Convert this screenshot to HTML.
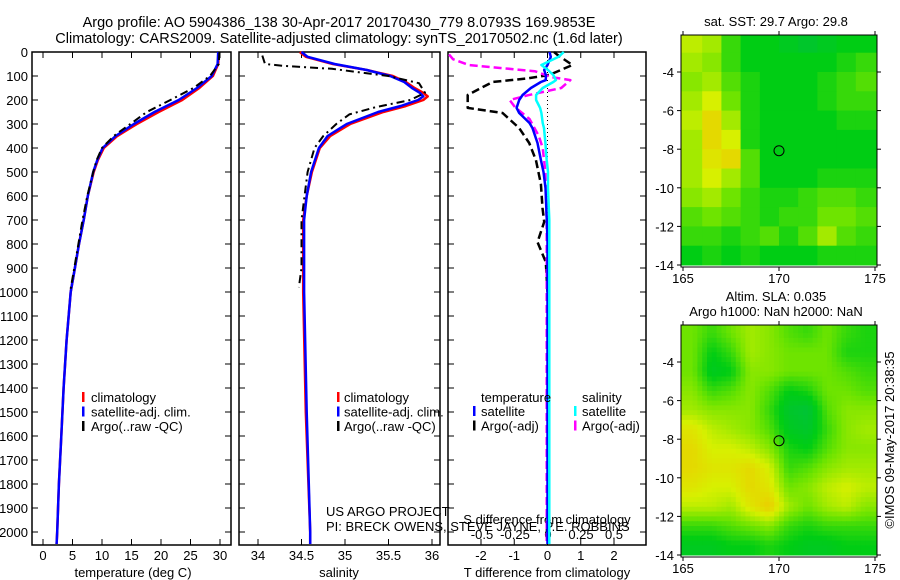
<!DOCTYPE html>
<html><head><meta charset="utf-8"><style>
body{margin:0;background:#fff;}
svg{display:block;font-family:"Liberation Sans",sans-serif;}
</style></head><body>
<svg id="c" width="900" height="580" viewBox="0 0 900 580" xmlns="http://www.w3.org/2000/svg">
<text x="339" y="27" text-anchor="middle" font-size="14.5">Argo profile: AO 5904386_138 30-Apr-2017 20170430_779 8.0793S 169.9853E</text>
<text x="339" y="43" text-anchor="middle" font-size="14.5">Climatology: CARS2009. Satellite-adjusted climatology: synTS_20170502.nc (1.6d later)</text>
<text x="776" y="26" text-anchor="middle" font-size="13">sat. SST: 29.7 Argo: 29.8</text>
<text x="776" y="301" text-anchor="middle" font-size="13">Altim. SLA: 0.035</text>
<text x="776" y="316" text-anchor="middle" font-size="13">Argo h1000: NaN h2000: NaN</text>
<text transform="translate(894,440) rotate(-90)" text-anchor="middle" font-size="13">©IMOS 09-May-2017 20:38:35</text>
<g id="g"></g>
</svg>
<script>
// ---- data ----
const depthClim=[0,50,100,150,200,250,300,350,400,450,500,600,700,800,900,1000,1200,1400,1600,1800,2000,2050];
const tempClim=[29.8,29.7,28.8,26.5,23.6,19.6,15.9,12.6,10.3,9.3,8.6,7.6,6.9,6.1,5.4,4.7,4.0,3.5,3.1,2.7,2.4,2.3];
const tempSat=[29.7,29.6,28.6,26.1,23.0,18.9,15.4,12.3,10.1,9.2,8.5,7.6,6.9,6.1,5.4,4.7,4.0,3.5,3.1,2.7,2.4,2.3];
const depthArgo=[0,50,100,150,200,250,300,350,400,450,500,600,700,800,900,1000];
const tempArgo=[29.9,29.8,28.3,25.5,21.6,17.6,14.8,12.0,10.0,9.1,8.5,7.5,6.7,6.0,5.3,4.6];
const depthSal=[0,20,50,75,100,125,150,170,185,200,225,250,300,350,400,500,600,700,1000,1500,2000,2050];
const salClim=[34.48,34.55,34.86,35.25,35.55,35.7,35.8,35.9,35.95,35.9,35.7,35.44,35.06,34.83,34.71,34.62,34.56,34.52,34.52,34.55,34.6,34.6];
const salSat=[34.5,34.57,34.88,35.25,35.52,35.68,35.77,35.86,35.9,35.84,35.64,35.38,35.02,34.8,34.7,34.61,34.56,34.53,34.53,34.56,34.6,34.6];
const depthSArgo=[15,50,58,70,100,130,170,200,230,260,300,350,400,500,700,900,980];
const salArgo=[34.05,34.08,34.3,34.85,35.5,35.85,35.92,35.75,35.35,35.05,34.9,34.75,34.65,34.57,34.5,34.5,34.47];
const depthDiff=[0,20,54,75,96,117,125,150,179,200,233,254,296,317,379,450,500,567,700,792,875,1000,1500,2050];
const tDiffSat=[0.06,0.1,0.0,-0.1,-0.05,-0.05,-0.2,-0.5,-0.75,-0.85,-0.93,-0.85,-0.54,-0.45,-0.3,-0.2,-0.12,-0.06,-0.02,0,0,0,0,0];
const sDiffSat=[0.12,0.08,-0.05,0.0,0.04,0.06,0.04,-0.04,-0.09,-0.09,-0.06,-0.05,-0.04,-0.03,-0.02,-0.01,0,0,0.01,0.01,0.01,0.01,0.01,0.01];
const depthTA=[0,12,54,75,96,110,125,150,179,200,233,254,317,379,450,550,650,708,792,875,1000];
const tDiffArgo=[0.2,0.3,0.75,0.4,0.05,-0.6,-1.65,-2.0,-2.4,-2.4,-2.4,-1.35,-0.85,-0.55,-0.35,-0.2,-0.15,-0.1,-0.3,-0.05,0];
const depthSA=[10,30,54,80,104,117,150,180,200,230,279,350,400,500,700,1000,1500,2050];
const sDiffArgo=[-0.75,-0.72,-0.6,-0.1,0.02,0.17,0.1,-0.15,-0.29,-0.25,-0.14,-0.07,-0.04,-0.02,-0.01,-0.01,-0.01,-0.01];
const tempTicks=[0,5,10,15,20,25,30];
const salTicks=[34,34.5,35,35.5,36];
const tdTicks=[-2,-1,0,1,2];
const sdTicks=[-0.5,-0.25,0,0.25,0.5];
const sdTickLabels=["-0.5","-0.25","0","0.25","0.5"];
const depthTicks=[0,100,200,300,400,500,600,700,800,900,1000,1100,1200,1300,1400,1500,1600,1700,1800,1900,2000];
const lonTicks=[165,170,175];
const latTicks=[-4,-6,-8,-10,-12,-14];
const sstGrid=[
[0.65,0.6,0.4,0.3,0.3,0.25,0.2,0.25,0.3,0.3],
[0.6,0.55,0.4,0.3,0.3,0.3,0.3,0.3,0.35,0.4],
[0.55,0.6,0.45,0.35,0.3,0.3,0.3,0.35,0.4,0.45],
[0.6,0.7,0.5,0.35,0.3,0.3,0.3,0.35,0.4,0.4],
[0.65,0.8,0.6,0.35,0.3,0.3,0.3,0.3,0.35,0.35],
[0.6,0.8,0.7,0.35,0.3,0.3,0.3,0.3,0.3,0.3],
[0.6,0.75,0.8,0.45,0.3,0.3,0.3,0.3,0.3,0.3],
[0.6,0.7,0.6,0.45,0.3,0.3,0.3,0.35,0.35,0.35],
[0.55,0.6,0.5,0.4,0.35,0.35,0.4,0.45,0.45,0.4],
[0.45,0.5,0.45,0.4,0.35,0.4,0.4,0.5,0.5,0.45],
[0.4,0.4,0.35,0.4,0.45,0.35,0.45,0.6,0.45,0.4],
[0.3,0.35,0.3,0.35,0.3,0.3,0.3,0.35,0.35,0.35]];
const slaGrid=[
[0.5,0.4,0.5,0.6,0.55,0.45,0.4,0.5,0.4,0.35],
[0.5,0.3,0.4,0.6,0.55,0.5,0.5,0.5,0.35,0.35],
[0.5,0.25,0.3,0.55,0.55,0.5,0.5,0.5,0.45,0.4],
[0.55,0.4,0.45,0.55,0.45,0.3,0.35,0.5,0.5,0.45],
[0.6,0.55,0.55,0.55,0.4,0.2,0.15,0.45,0.55,0.55],
[0.75,0.65,0.6,0.55,0.45,0.25,0.2,0.4,0.55,0.6],
[0.8,0.7,0.7,0.65,0.55,0.35,0.3,0.45,0.55,0.55],
[0.8,0.75,0.75,0.8,0.7,0.4,0.45,0.55,0.6,0.6],
[0.75,0.7,0.7,0.8,0.75,0.5,0.55,0.65,0.7,0.65],
[0.65,0.65,0.6,0.75,0.85,0.6,0.5,0.6,0.65,0.55],
[0.4,0.4,0.45,0.5,0.55,0.4,0.35,0.4,0.4,0.4],
[0.25,0.25,0.3,0.3,0.35,0.3,0.25,0.25,0.3,0.3]];
const argoLon=[170.0], argoLat=[-8.08];

// ---- helpers ----
const NS="http://www.w3.org/2000/svg", G=document.getElementById('g');
function mk(tag,at,parent){const e=document.createElementNS(NS,tag);for(const k in at)e.setAttribute(k,at[k]);(parent||G).appendChild(e);return e;}
const TOP=52,BOT=545,FS=13;
const yD=d=>TOP+d*0.2400;
function lin(d0,d1,p0,p1){return v=>p0+(v-d0)*(p1-p0)/(d1-d0);}
function panel(x0,x1,name){const r=mk('rect',{x:x0,y:TOP,width:x1-x0,height:BOT-TOP,fill:'none',stroke:'#000','stroke-width':1.5});


depthTicks.forEach(d=>{const y=yD(d);mk('line',{x1:x0,x2:x0+6,y1:y,y2:y,stroke:'#000'});mk('line',{x1:x1,x2:x1-6,y1:y,y2:y,stroke:'#000'});});}
function line(xs,ys,fx,color,name,dash,w){const pts=xs.map((v,i)=>fx(v).toFixed(1)+','+yD(ys[i]).toFixed(1)).join(' ');
const p=mk('polyline',{points:pts,fill:'none',stroke:color,'stroke-width':w||2.5,'stroke-linejoin':'round'});if(dash)p.setAttribute('stroke-dasharray',dash);

}
function txt(x,y,s,anchor,size,name){const t=mk('text',{x:x,y:y,'text-anchor':anchor||'start','font-size':size||FS});t.textContent=s;

return t;}

// Panel 1
const xT=lin(0,30,43,220);
panel(32,231,'temperature-panel');
depthTicks.forEach(d=>txt(28,yD(d)+5,String(d),'end',FS,'depth-tick-label'));
tempTicks.forEach(v=>{mk('line',{x1:xT(v),x2:xT(v),y1:BOT,y2:BOT-6,stroke:'#000'});mk('line',{x1:xT(v),x2:xT(v),y1:TOP,y2:TOP+6,stroke:'#000'});txt(xT(v),560,String(v),'middle',FS,'temp-tick-label');});
txt(133,577,'temperature (deg C)','middle',FS,'temp-axis-title');
line(tempClim,depthClim,xT,'#f00','temp-climatology-line');
line(tempSat,depthClim,xT,'#00f','temp-satellite-line');
line(tempArgo,depthArgo,xT,'#000','temp-argo-line','8,4,2,4',2);
[['#f00','climatology'],['#00f','satellite-adj. clim.'],['#000','Argo(..raw -QC)']].forEach((l,i)=>{const y=397+i*14.5;mk('rect',{x:82,y:y-5,width:2.5,height:10,fill:l[0]});txt(91,y+5,l[1],'start',FS,'temp-legend-entry');});

// Panel 2
const xS=lin(34,36,258,432);
panel(239,440,'salinity-panel');
salTicks.forEach(v=>{mk('line',{x1:xS(v),x2:xS(v),y1:BOT,y2:BOT-6,stroke:'#000'});mk('line',{x1:xS(v),x2:xS(v),y1:TOP,y2:TOP+6,stroke:'#000'});txt(xS(v),560,String(v),'middle',FS,'sal-tick-label');});
txt(339,577,'salinity','middle',FS,'sal-axis-title');
line(salClim,depthSal,xS,'#f00','sal-climatology-line');
line(salSat,depthSal,xS,'#00f','sal-satellite-line');
line(salArgo,depthSArgo,xS,'#000','sal-argo-line','8,4,2,4',2);
[['#f00','climatology'],['#00f','satellite-adj. clim.'],['#000','Argo(..raw -QC)']].forEach((l,i)=>{const y=397+i*14.5;mk('rect',{x:337,y:y-5,width:2.5,height:10,fill:l[0]});txt(344,y+5,l[1],'start',FS,'sal-legend-entry');});
txt(326,516,'US ARGO PROJECT','start',FS,'project-label');
txt(326,531,'PI: BRECK OWENS, STEVE JAYNE, P.E. ROBBINS','start',FS,'pi-label');

// Panel 3
const xTD=lin(-2,2,481,614), xSD=lin(-0.5,0.5,482,614);
panel(448,646,'difference-panel');
mk('line',{x1:xTD(0),x2:xTD(0),y1:TOP,y2:BOT,stroke:'#000','stroke-dasharray':'1,3'});
tdTicks.forEach(v=>{mk('line',{x1:xTD(v),x2:xTD(v),y1:BOT,y2:BOT-6,stroke:'#000'});mk('line',{x1:xTD(v),x2:xTD(v),y1:TOP,y2:TOP+6,stroke:'#000'});txt(xTD(v),560,String(v),'middle',FS,'tdiff-tick-label');});
sdTicks.forEach((v,i)=>txt(xSD(v),539,sdTickLabels[i],'middle',FS,'sdiff-tick-label'));
txt(547,524,'S difference from climatology','middle',FS,'sdiff-axis-title');
txt(547,577,'T difference from climatology','middle',FS,'tdiff-axis-title');
line(tDiffArgo,depthTA,xTD,'#000','tdiff-argo-line','8,4',2.5);
line(sDiffArgo,depthSA,xSD,'#f0f','sdiff-argo-line','8,4',2.5);
line(tDiffSat,depthDiff,xTD,'#00f','tdiff-satellite-line',null,2.5);
line(sDiffSat,depthDiff,xSD,'#0ff','sdiff-satellite-line',null,2.5);
txt(481,402,'temperature','start',FS,'legend-header-temperature');
txt(582,402,'salinity','start',FS,'legend-header-salinity');
[['#00f','satellite',473],['#000','Argo(-adj)',473],['#0ff','satellite',574],['#f0f','Argo(-adj)',574]].forEach((l,i)=>{const y=411+(i%2)*14.5;mk('rect',{x:l[2],y:y-5,width:2.5,height:10,fill:l[0]});txt(l[2]+8,y+5,l[1],'start',FS,'diff-legend-entry');});

// Maps
function col(v){const stops=[[0,[0,185,90]],[0.3,[0,205,20]],[0.5,[110,228,0]],[0.7,[215,240,0]],[1,[255,170,0]]];
v=Math.max(0,Math.min(1,v));
for(let i=1;i<stops.length;i++){if(v<=stops[i][0]){const a=stops[i-1],b=stops[i],t=(v-a[0])/(b[0]-a[0]);return 'rgb('+a[1].map((c,k)=>Math.round(c+(b[1][k]-c)*t)).join(',')+')';}}return 'rgb(255,170,0)';}
function sample(grid,fr,fc){
 const R=grid.length,C=grid[0].length;fr=Math.max(0,Math.min(R-1,fr));fc=Math.max(0,Math.min(C-1,fc));
 const r0=Math.floor(fr),c0=Math.floor(fc),r1=Math.min(R-1,r0+1),c1=Math.min(C-1,c0+1),tr=fr-r0,tc=fc-c0;
 return grid[r0][c0]*(1-tr)*(1-tc)+grid[r0][c1]*(1-tr)*tc+grid[r1][c0]*tr*(1-tc)+grid[r1][c1]*tr*tc;}
function map(grid,top,lat4,name,sub){
 const xL=lin(165,175,683,875), yL=lin(-4,-14,lat4,lat4+193);
 const gg=mk('g',{});
 
 
 const R=grid.length,C=grid[0].length;
 for(let r=0;r<R*sub;r++)for(let c=0;c<C*sub;c++){
  const lon0=165+c/sub,lon1=165+(c+1)/sub,la0=-2-r/sub,la1=-2-(r+1)/sub;
  const v=sub===1?grid[r][c]:sample(grid,(r+0.5)/sub-0.5,(c+0.5)/sub-0.5);
  let x0=c===0?681:xL(lon0),x1=c===C*sub-1?877:xL(lon1),y0=Math.max(top,yL(la0)),y1=yL(la1);
  if(y1<=top)continue;
  const cell=mk('rect',{x:x0,y:y0,width:x1-x0+0.5,height:y1-y0+0.5,fill:col(v)},gg);
  
  }
 const bot=yL(-14)+2;
 mk('rect',{x:681,y:top,width:196,height:bot-top,fill:'none',stroke:'#000','stroke-width':1});
 lonTicks.forEach(v=>{mk('line',{x1:xL(v),x2:xL(v),y1:bot,y2:bot+4,stroke:'#000'});mk('line',{x1:xL(v),x2:xL(v),y1:top,y2:top-4,stroke:'#000'});txt(xL(v),bot+16,String(v),'middle',FS,'lon-tick-label');});
 latTicks.forEach(v=>{mk('line',{x1:681,x2:677,y1:yL(v),y2:yL(v),stroke:'#000'});mk('line',{x1:877,x2:881,y1:yL(v),y2:yL(v),stroke:'#000'});txt(674,yL(v)+5,String(v),'end',FS,'lat-tick-label');});
 argoLon.forEach((lo,i)=>{const m=mk('circle',{cx:xL(lo),cy:yL(argoLat[i]),r:5,fill:'none',stroke:'#000','stroke-width':1});
  
  });
}
map(sstGrid,35,72,'sst-map',1);
map(slaGrid,325,362,'sla-map',4);
</script>
</body></html>
